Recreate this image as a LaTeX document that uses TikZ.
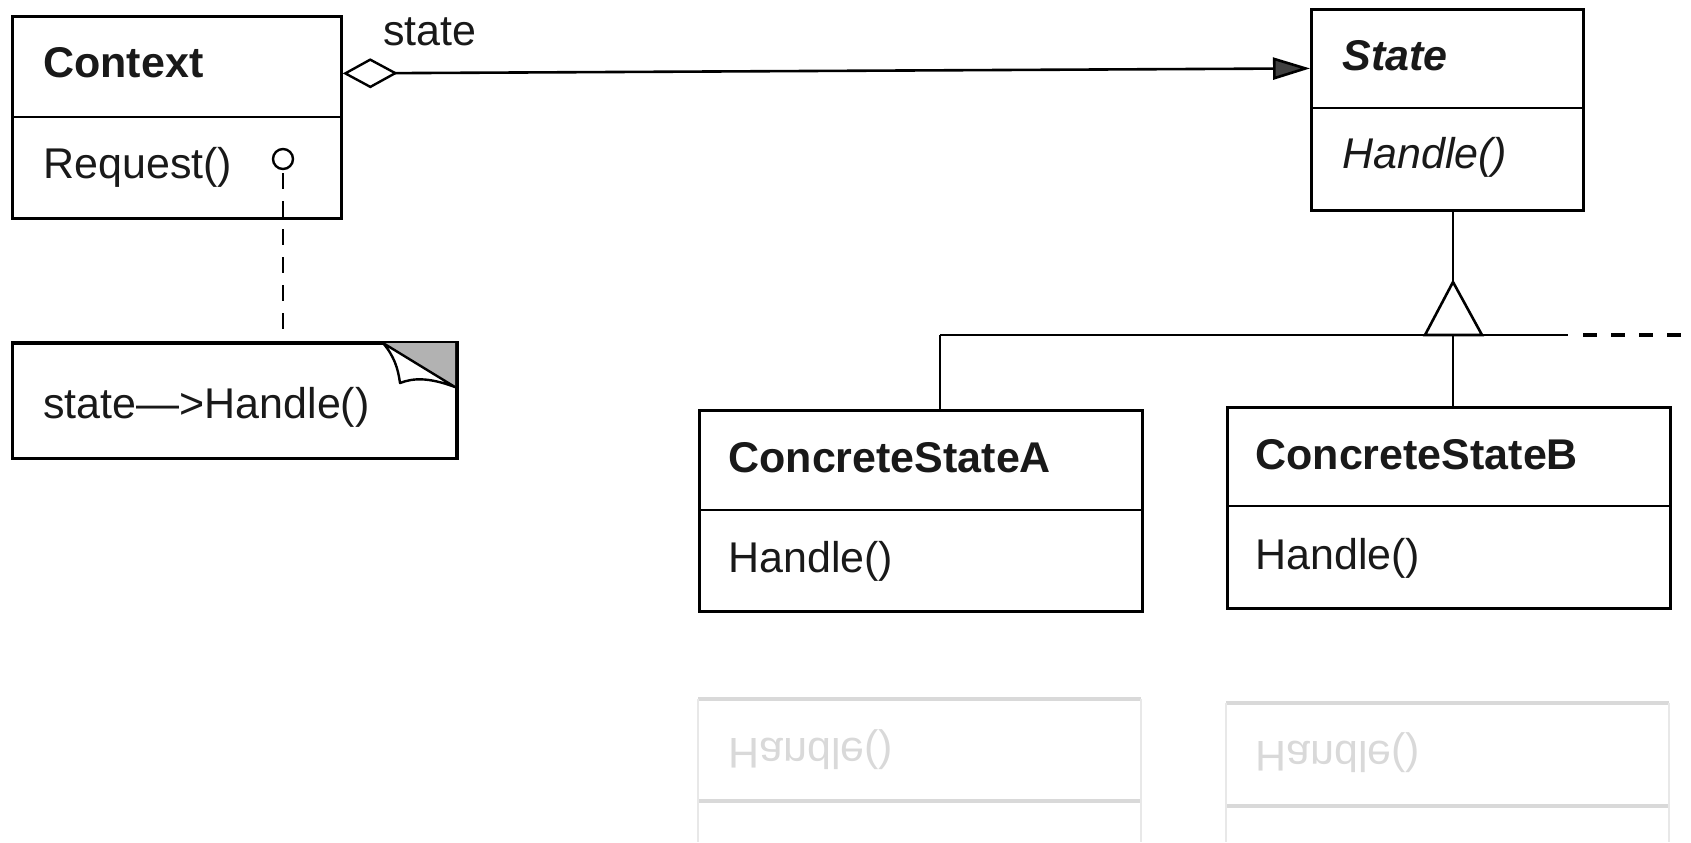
\documentclass[tikz,border=0pt]{standalone}
\usepackage{fontspec}
\setmainfont{Liberation Sans}
\usetikzlibrary{arrows.meta}
\begin{document}
\begin{tikzpicture}[x=0.5pt,y=-0.5pt,
  every node/.style={font=\fontsize{21.5}{26}\selectfont, text=black!90},
  cls/.style={draw, line width=1.4pt, inner sep=0pt, anchor=north west},
  lbl/.style={anchor=base west, inner sep=0pt},
  conn/.style={line width=1.3pt},
  ghostline/.style={line width=1.6pt, draw=black!15},
  ghostside/.style={line width=1.2pt, draw=black!9},
  ghosttext/.style={anchor=base west, inner sep=0pt, text=black!15, yscale=-1},
]
\useasboundingbox (0,0) rectangle (1691,842);

% ---- class boxes
\node[cls, minimum width=164.5pt, minimum height=101pt] (ctx) at (11,15) {};
\draw[line width=1.4pt] (ctx.west |- 0,117) -- (ctx.east |- 0,117);
\node[lbl] (tctx) at (43,77) {\bfseries Context};
\node[lbl] (treq) at (43,178) {Request()};

\node[cls, minimum width=136pt, minimum height=100.5pt] (st) at (1310,8) {};
\draw[line width=1.4pt] (st.west |- 0,108) -- (st.east |- 0,108);
\node[lbl] (tst) at (1342,70) {\bfseries\itshape State};
\node[lbl] (tsth) at (1342,168) {\itshape Handle()};

\node[cls, minimum width=221.5pt, minimum height=100.5pt] (csa) at (698,409) {};
\draw[line width=1.4pt] (csa.west |- 0,510) -- (csa.east |- 0,510);
\node[lbl] (tcsa) at (728,472) {\bfseries ConcreteStateA};
\node[lbl] (tcsah) at (728,572) {Handle()};

\node[cls, minimum width=221.5pt, minimum height=100.5pt] (csb) at (1226,406) {};
\draw[line width=1.4pt] (csb.west |- 0,506) -- (csb.east |- 0,506);
\node[lbl] (tcsb) at (1255,469) {\bfseries ConcreteStateB};
\node[lbl] (tcsbh) at (1255,569) {Handle()};

% ---- note
\node[cls, minimum width=222pt, minimum height=57.5pt] (note) at (11,342) {};
\begin{scope}
\clip (11,342) rectangle (455,457);
\fill[black!30] (383,343) -- (455,343) -- (455,386) -- cycle;
\draw[line width=1.2pt, line join=round, fill=white] (383,343) .. controls (394,356) and (398,368) .. (400,383)
   .. controls (413,378) and (428,377) .. (455,387) -- cycle;
\end{scope}
\draw[line width=1.4pt] (note.north west) -- (note.north east) -- (note.south east);
\node[lbl] (tnote) at (43,418) {state—>Handle()};

% ---- note link
\node[circle, draw, line width=1.2pt, minimum size=10pt, inner sep=0pt] (dot) at (283,159) {};
\draw[conn, dash pattern=on 8pt off 6pt] ([yshift=-1.5pt]dot.south) -- (dot.south |- note.north);

% ---- aggregation
\draw[conn, {Diamond[open, length=27.5pt, width=15pt, line width=1.2pt]}-{Triangle[length=18.5pt, width=11pt, fill=black!75]}]
  ([yshift=22pt]ctx.east) -- ([yshift=20.75pt]st.west);
\node[lbl] (tagg) at (383,45) {state};

% ---- inheritance
\coordinate (apex) at (1453,282);
\coordinate (bar) at (1453,335);
\coordinate (busL) at (940,335);
\coordinate (busR) at (1568,335);
\coordinate (busE) at (1691,335);
\draw[conn] (st.south -| apex) -- (apex);
\draw[conn, line join=miter] (apex) -- (1425,335) -- (1482,335) -- cycle;
\draw[conn] (busL) -- (busR);
\draw[line width=1.8pt, dash pattern=on 7pt off 7pt] ([xshift=7.5pt]busR) -- (busE);
\draw[conn] (busL) -- (busL |- csa.north);
\draw[conn] (bar) -- (bar |- csb.north);

% ---- faint reflection (bleed-through) below the boxes
\draw[ghostline] (698,699) -- (1141,699);
\draw[ghostline] (698,801) -- (1141,801);
\draw[ghostside] (698,699) -- (698,842);
\draw[ghostside] (1141,699) -- (1141,842);
\node[ghosttext] (g1) at (728,738) {Handle()};
\draw[ghostline] (1226,703) -- (1669,703);
\draw[ghostline] (1226,806) -- (1669,806);
\draw[ghostside] (1226,703) -- (1226,842);
\draw[ghostside] (1669,703) -- (1669,842);
\node[ghosttext] (g2) at (1255,741) {Handle()};
\end{tikzpicture}
\end{document}
